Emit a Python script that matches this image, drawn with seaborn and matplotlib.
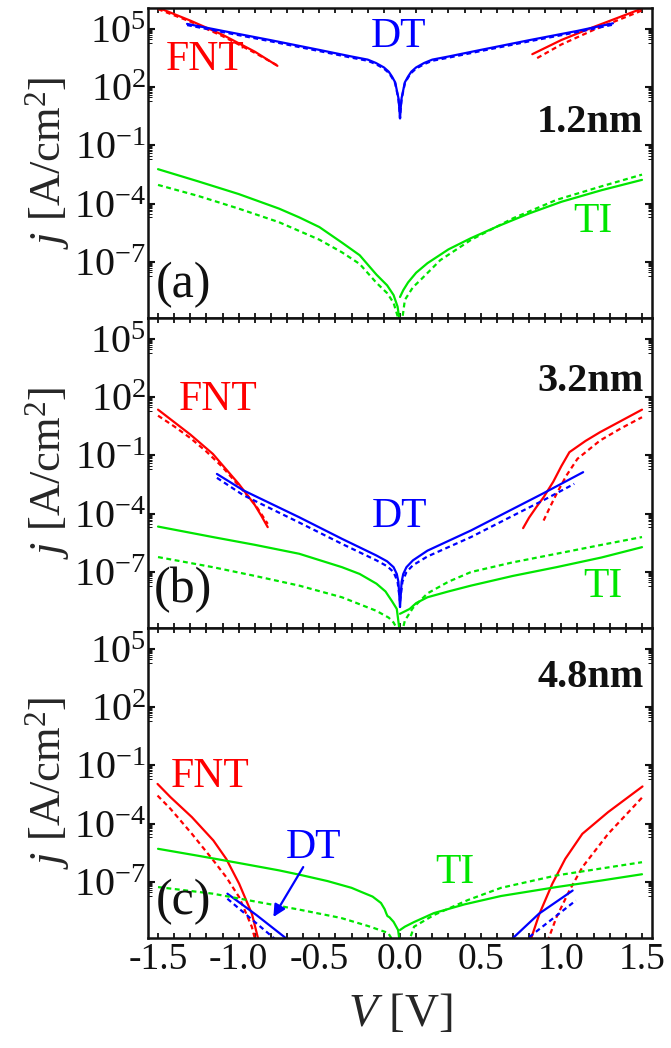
"""Tunnelling current density vs bias for three oxide thicknesses (FNT / DT / TI)."""
import matplotlib
matplotlib.use("Agg")
import matplotlib.pyplot as plt
import matplotlib.ticker as mticker
import numpy as np
import pandas as pd
import seaborn as sns

# ---- data: V [V] and log10 j [A/cm^2] ----
# panel (a) 1.2 nm
A_FNT_L_V = [-1.50, -1.30, -1.10, -0.90, -0.76]
A_FNT_L_S = [6.10, 5.43, 4.70, 3.83, 3.10]
A_FNT_L_D = [6.02, 5.38, 4.63, 3.77, 3.12]
A_FNT_R_V = [0.82, 1.00, 1.20, 1.50]
A_FNT_R_S = [3.70, 4.43, 5.10, 6.05]
A_FNT_RD_V = [0.85, 1.00, 1.20, 1.50]
A_FNT_R_D = [3.50, 4.20, 4.95, 5.95]
A_DT_V = [-1.32, -1.10, -0.80, -0.50, -0.30, -0.20, -0.15, -0.10, -0.07, -0.05, -0.03,
          -0.02, -0.01, -0.005, 0.0, 0.005, 0.01, 0.02, 0.03, 0.05, 0.07, 0.10, 0.15,
          0.20, 0.30, 0.50, 0.80, 1.10, 1.32]
A_DT_S = [5.26, 4.90, 4.42, 3.92, 3.58, 3.42, 3.25, 3.02, 2.80, 2.55, 2.25,
          1.85, 1.45, 1.00, 0.40, 1.00, 1.45, 1.85, 2.25, 2.55, 2.80, 3.02, 3.25,
          3.42, 3.58, 3.92, 4.42, 4.90, 5.29]
A_DT_D = [5.20, 4.84, 4.36, 3.86, 3.52, 3.36, 3.19, 2.96, 2.74, 2.50, 2.20,
          1.80, 1.40, 1.00, 0.40, 1.00, 1.40, 1.80, 2.20, 2.50, 2.74, 2.96, 3.19,
          3.36, 3.52, 3.86, 4.36, 4.84, 5.22]
A_TI_L_V = [-1.50, -1.25, -1.00, -0.75, -0.625, -0.50, -0.36, -0.25, -0.146, -0.08,
            -0.04, -0.015, 0.0]
A_TI_L_S = [-2.22, -2.85, -3.50, -4.25, -4.70, -5.20, -6.00, -6.65, -7.65, -8.20,
            -8.70, -9.30, -10.2]
A_TID_L_V = [-1.50, -1.25, -1.00, -0.75, -0.50, -0.36, -0.25, -0.146, -0.08, -0.04, 0.0]
A_TI_L_D = [-3.03, -3.60, -4.25, -4.95, -5.85, -6.50, -7.10, -8.07, -8.60, -9.10, -10.2]
A_TI_R_V = [0.0, 0.02, 0.05, 0.10, 0.17, 0.30, 0.44, 0.60, 0.80, 1.00, 1.25, 1.50]
A_TI_R_S = [-8.80, -8.45, -8.05, -7.55, -7.06, -6.35, -5.77, -5.18, -4.50, -3.90,
            -3.30, -2.77]
A_TID_R_V = [0.01, 0.03, 0.08, 0.13, 0.25, 0.44, 0.70, 0.97, 1.25, 1.50]
A_TI_R_D = [-10.2, -8.95, -8.30, -7.90, -6.90, -5.86, -4.75, -3.80, -3.10, -2.50]

# panel (b) 3.2 nm
B_FNT_L_V = [-1.50, -1.40, -1.30, -1.16, -1.10, -1.00, -0.95, -0.90, -0.86, -0.82]
B_FNT_L_S = [1.36, 0.72, 0.08, -0.92, -1.50, -2.46, -3.00, -3.55, -4.10, -4.69]
B_FNTD_L_V = [-1.50, -1.40, -1.30, -1.20, -1.10, -1.00, -0.90, -0.82]
B_FNT_L_D = [1.05, 0.50, -0.10, -0.80, -1.60, -2.55, -3.50, -4.52]
B_FNT_R_V = [0.763, 0.80, 0.85, 0.89, 0.95, 1.00, 1.05, 1.15, 1.24, 1.37, 1.50]
B_FNT_R_S = [-4.74, -4.20, -3.60, -3.15, -2.35, -1.55, -0.83, -0.25, 0.20, 0.78, 1.36]
B_FNTD_R_V = [0.89, 0.93, 0.97, 1.03, 1.10, 1.24, 1.37, 1.50]
B_FNT_R_D = [-4.35, -3.65, -2.98, -2.05, -1.17, -0.23, 0.40, 0.97]
B_DT_L_V = [-1.135, -0.97, -0.625, -0.36, -0.146, -0.08, -0.04, -0.02, -0.01, 0.0]
B_DT_L_S = [-1.95, -2.80, -4.18, -5.29, -6.15, -6.45, -6.75, -7.10, -7.50, -8.80]
B_DT_R_V = [0.0, 0.01, 0.02, 0.04, 0.08, 0.17, 0.44, 0.70, 0.89, 1.135]
B_DT_R_S = [-8.80, -7.50, -7.10, -6.75, -6.40, -5.90, -4.86, -3.75, -2.94, -1.86]
B_DTD_L_V = [-1.135, -0.97, -0.625, -0.36, -0.146, -0.08, -0.04, -0.015, 0.0]
B_DT_L_D = [-2.15, -3.05, -4.45, -5.55, -6.40, -6.70, -7.00, -7.50, -8.50]
B_DTD_R_V = [0.0, 0.015, 0.04, 0.08, 0.17, 0.44, 0.70, 0.89, 1.08]
B_DT_R_D = [-8.50, -7.50, -7.00, -6.65, -6.20, -5.20, -4.10, -3.30, -2.46]
B_TI_L_V = [-1.50, -1.16, -0.90, -0.625, -0.36, -0.25, -0.146, -0.09, -0.05, -0.02, 0.0]
B_TI_L_S = [-4.66, -5.20, -5.60, -6.06, -6.75, -7.10, -7.60, -8.00, -8.50, -8.90, -10.2]
B_TI_R_V = [0.0, 0.06, 0.10, 0.17, 0.30, 0.44, 0.70, 0.97, 1.25, 1.50]
B_TI_R_S = [-9.15, -8.90, -8.60, -8.30, -8.00, -7.70, -7.20, -6.75, -6.25, -5.72]
B_TID_L_V = [-1.50, -1.16, -0.90, -0.625, -0.36, -0.146, -0.07, -0.04, 0.0]
B_TI_L_D = [-6.23, -6.75, -7.20, -7.70, -8.30, -9.00, -9.35, -9.60, -10.2]
B_TID_R_V = [0.01, 0.03, 0.08, 0.17, 0.30, 0.44, 0.70, 0.97, 1.25, 1.50]
B_TI_R_D = [-10.2, -9.50, -8.85, -8.10, -7.50, -7.00, -6.50, -6.06, -5.60, -5.20]

# panel (c) 4.8 nm
C_FNT_L_V = [-1.503, -1.423, -1.29, -1.157, -1.077, -0.997, -0.918, -0.878, -0.86]
C_FNT_L_S = [-1.95, -2.63, -3.66, -4.86, -5.81, -7.09, -8.64, -9.97, -10.5]
C_FNTD_L_V = [-1.503, -1.423, -1.29, -1.157, -1.077, -0.997, -0.918, -0.898, -0.89]
C_FNT_L_D = [-2.55, -3.23, -4.52, -5.89, -6.75, -7.78, -9.32, -9.97, -10.5]
C_FNT_R_V = [0.80, 0.81, 0.864, 0.944, 1.024, 1.13, 1.29, 1.503]
C_FNT_R_S = [-10.5, -9.97, -8.64, -7.09, -5.81, -4.52, -3.40, -2.08]
C_FNTD_R_V = [0.91, 0.918, 0.97, 1.05, 1.13, 1.29, 1.503]
C_FNT_R_D = [-10.5, -9.97, -8.81, -7.44, -6.24, -4.52, -2.63]
C_DT_L_V = [-1.07, -0.89, -0.66]
C_DT_L_S = [-7.60, -8.70, -10.2]
C_DT_R_V = [0.66, 0.86, 1.07]
C_DT_R_S = [-10.2, -8.64, -7.44]
C_DTD_L_V = [-1.07, -0.77, -0.74]
C_DT_L_D = [-7.86, -9.97, -10.3]
C_DTD_R_V = [0.76, 1.09]
C_DT_R_D = [-10.1, -7.95]
C_TI_L_V = [-1.50, -1.25, -1.00, -0.75, -0.614, -0.45, -0.30, -0.24, -0.17, -0.118,
            -0.095, -0.085, -0.078, -0.065, -0.04, -0.012, 0.0]
C_TI_L_S = [-5.29, -5.65, -6.02, -6.40, -6.64, -6.95, -7.30, -7.51, -7.75, -8.08,
            -8.40, -8.62, -8.75, -8.82, -9.05, -9.47, -10.2]
C_TI_R_V = [0.0, 0.03, 0.087, 0.21, 0.40, 0.626, 0.97, 1.25, 1.50]
C_TI_R_S = [-9.47, -9.30, -9.06, -8.60, -8.15, -7.72, -7.26, -6.92, -6.60]
C_TID_L_V = [-1.50, -1.16, -0.90, -0.625, -0.366, -0.20, -0.074, -0.03]
C_TI_L_D = [-7.26, -7.60, -8.00, -8.42, -8.85, -9.26, -9.62, -10.2]
C_TID_R_V = [0.05, 0.087, 0.21, 0.42, 0.626, 0.97, 1.25, 1.50]
C_TI_R_D = [-10.2, -9.30, -8.70, -7.93, -7.30, -6.66, -6.30, -5.98]

CURVES = {
    "a": [("FNT", "solid", A_FNT_L_V, A_FNT_L_S), ("FNT", "dashed", A_FNT_L_V, A_FNT_L_D),
          ("FNT", "solid", A_FNT_R_V, A_FNT_R_S), ("FNT", "dashed", A_FNT_RD_V, A_FNT_R_D),
          ("DT", "dashed", A_DT_V, A_DT_D), ("DT", "solid", A_DT_V, A_DT_S),
          ("TI", "solid", A_TI_L_V, A_TI_L_S), ("TI", "dashed", A_TID_L_V, A_TI_L_D),
          ("TI", "solid", A_TI_R_V, A_TI_R_S), ("TI", "dashed", A_TID_R_V, A_TI_R_D)],
    "b": [("FNT", "solid", B_FNT_L_V, B_FNT_L_S), ("FNT", "dashed", B_FNTD_L_V, B_FNT_L_D),
          ("FNT", "solid", B_FNT_R_V, B_FNT_R_S), ("FNT", "dashed", B_FNTD_R_V, B_FNT_R_D),
          ("DT", "dashed", B_DTD_L_V, B_DT_L_D), ("DT", "dashed", B_DTD_R_V, B_DT_R_D),
          ("DT", "solid", B_DT_L_V, B_DT_L_S), ("DT", "solid", B_DT_R_V, B_DT_R_S),
          ("TI", "solid", B_TI_L_V, B_TI_L_S), ("TI", "solid", B_TI_R_V, B_TI_R_S),
          ("TI", "dashed", B_TID_L_V, B_TI_L_D), ("TI", "dashed", B_TID_R_V, B_TI_R_D)],
    "c": [("FNT", "solid", C_FNT_L_V, C_FNT_L_S), ("FNT", "dashed", C_FNTD_L_V, C_FNT_L_D),
          ("FNT", "solid", C_FNT_R_V, C_FNT_R_S), ("FNT", "dashed", C_FNTD_R_V, C_FNT_R_D),
          ("DT", "solid", C_DT_L_V, C_DT_L_S), ("DT", "solid", C_DT_R_V, C_DT_R_S),
          ("DT", "dashed", C_DTD_L_V, C_DT_L_D), ("DT", "dashed", C_DTD_R_V, C_DT_R_D),
          ("TI", "solid", C_TI_L_V, C_TI_L_S), ("TI", "solid", C_TI_R_V, C_TI_R_S),
          ("TI", "dashed", C_TID_L_V, C_TI_L_D), ("TI", "dashed", C_TID_R_V, C_TI_R_D)],
}
THICKNESS = {"a": "1.2nm", "b": "3.2nm", "c": "4.8nm"}

RED, BLUE, GREEN = "#ff0000", "#0000ff", "#00e600"
PALETTE = {"FNT": RED, "DT": BLUE, "TI": GREEN}

rows = []
for panel, curves in CURVES.items():
    for k, (mech, calc, vs, logs) in enumerate(curves):
        for v, lj in zip(vs, logs):
            rows.append({"panel": panel, "mech": mech, "calc": calc,
                         "branch": k, "V": v, "j": 10.0 ** lj})
df = pd.DataFrame(rows)

sns.set_theme(style="ticks")
plt.rcParams.update({
    "font.family": ["Liberation Serif", "DejaVu Serif"],
    "mathtext.fontset": "custom",
    "mathtext.rm": "Liberation Serif",
    "mathtext.it": "Liberation Serif:italic",
    "mathtext.bf": "Liberation Serif:bold",
    "mathtext.default": "regular",
    "axes.linewidth": 1.8,
})

fig, axes = plt.subplots(3, 1, figsize=(6.71, 10.48), dpi=100, sharex=True)
fig.subplots_adjust(left=0.2206, right=0.9717, top=0.9924, bottom=0.105, hspace=0)

major_y = [1e-7, 1e-4, 1e-1, 1e2, 1e5]
minor_y = [k * m / 10 for m in major_y for k in range(2, 10)]

labels = {
    "a": dict(fnt=(0.113, 0.832), dt=(0.496, 0.906), ti=(0.882, 0.31), nm=0.629, tag=0.106),
    "b": dict(fnt=(0.139, 0.735), dt=(0.498, 0.358), ti=(0.903, 0.132), nm=0.794, tag=0.123),
    "c": dict(fnt=(0.123, 0.52), dt=(0.328, 0.29), ti=(0.609, 0.21), nm=0.839, tag=0.116),
}

for ax, panel in zip(axes, ["a", "b", "c"]):
    sub = df[df["panel"] == panel]
    sns.lineplot(data=sub, x="V", y="j", hue="mech", style="calc", units="branch",
                 estimator=None, sort=False, palette=PALETTE,
                 dashes={"solid": "", "dashed": (2.2, 1.6)}, linewidth=1.6,
                 legend=False, ax=ax)
    ax.set_yscale("log")
    ax.set_xlim(-1.562, 1.562)
    ax.set_ylim(10 ** -9.88, 10 ** 6.08)
    ax.yaxis.set_major_locator(mticker.FixedLocator(major_y))
    ax.yaxis.set_minor_locator(mticker.FixedLocator(minor_y))
    ax.yaxis.set_minor_formatter(mticker.NullFormatter())
    ax.xaxis.set_major_locator(mticker.MultipleLocator(0.5))
    ax.xaxis.set_minor_locator(mticker.MultipleLocator(0.1))
    ax.xaxis.set_major_formatter(mticker.FormatStrFormatter("%.1f"))
    ax.tick_params(axis="both", which="both", direction="in", top=True, right=True,
                   colors="#111111")
    ax.tick_params(axis="y", which="major", length=5, width=1.5, labelsize=29, pad=1.5)
    ax.tick_params(axis="y", which="minor", length=3, width=0.7)
    ax.tick_params(axis="x", which="both", length=3.5, width=1.3, labelsize=27, pad=3)
    for s in ax.spines.values():
        s.set_color("#111111")

    ax.set_ylabel(r"$\mathit{j}$ [A/cm$^{2}$]", fontsize=32)
    ax.yaxis.set_label_coords(-0.151, 0.5)
    ax.set_xlabel("")

    p = labels[panel]
    ax.text(*p["fnt"], "FNT", color=RED, fontsize=30, ha="center", va="center",
            transform=ax.transAxes)
    ax.text(*p["dt"], "DT", color=BLUE, fontsize=30, ha="center", va="center",
            transform=ax.transAxes)
    ax.text(*p["ti"], "TI", color=GREEN, fontsize=30, ha="center", va="center",
            transform=ax.transAxes)
    ax.text(0.983, p["nm"], THICKNESS[panel], fontsize=29, fontweight="bold",
            color="#111111", ha="right", va="center", transform=ax.transAxes)
    ax.text(0.07, p["tag"], f"({panel})", fontsize=36, color="#111111",
            ha="center", va="center", transform=ax.transAxes)

axes[0].tick_params(axis="x", labelbottom=False)
axes[1].tick_params(axis="x", labelbottom=False)

# arrow from the DT label to its curve in panel (c)
axes[2].annotate("", xy=(-0.785, 10 ** -8.8), xytext=(-0.60, 10 ** -6.23),
                 arrowprops=dict(arrowstyle="-|>", color=BLUE, lw=1.6,
                                 mutation_scale=18, shrinkA=0, shrinkB=0))

axes[2].set_xlabel(r"$\mathit{V}$ [V]", fontsize=34)
axes[2].xaxis.set_label_coords(0.5, -0.177)

fig.savefig("out.png", dpi=100, facecolor="white")
